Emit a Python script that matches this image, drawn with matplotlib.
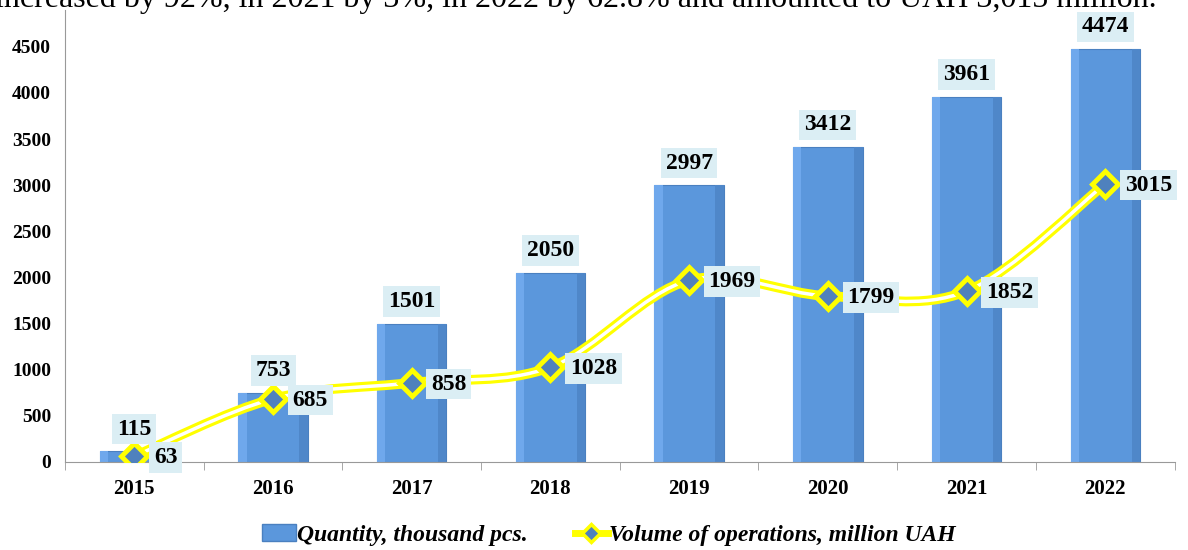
import numpy as np
import matplotlib
matplotlib.use('Agg')
import matplotlib.pyplot as plt
from matplotlib.path import Path
from matplotlib.patches import PathPatch, Patch
from matplotlib.lines import Line2D

plt.rcParams['font.family'] = ['Liberation Serif', 'DejaVu Serif']

years = ['2015', '2016', '2017', '2018', '2019', '2020', '2021', '2022']
quantity = [115, 753, 1501, 2050, 2997, 3412, 3961, 4474]
volume = [63, 685, 858, 1028, 1969, 1799, 1852, 3015]
yticks = [0, 500, 1000, 1500, 2000, 2500, 3000, 3500, 4000, 4500]
top_text = 'increased by 92%, in 2021 by 3%, in 2022 by 62.8% and amounted to UAH 3,015 million.'

fig = plt.figure(figsize=(11.88, 5.5), dpi=100)
ax = fig.add_axes([0.0547, 0.16, 0.934, 0.822])

x = np.arange(len(years))
bars = ax.bar(x, quantity, width=0.5, color='#5B97DC', edgecolor='#4A80C0',
              linewidth=0.8, zorder=2)
# simple bevel: lighter left strip, darker right strip
for b in bars:
    bx, bw, bh = b.get_x(), b.get_width(), b.get_height()
    ax.bar(bx + bw * 0.06, bh, width=bw * 0.12, color='#6FA8EC', linewidth=0, zorder=2.1)
    ax.bar(bx + bw * 0.94, bh, width=bw * 0.12, color='#4F87C9', linewidth=0, zorder=2.1)

# smooth curve through the points (Catmull-Rom as cubic bezier)
pts = np.column_stack([x, volume]).astype(float)
verts = [tuple(pts[0])]
codes = [Path.MOVETO]
for i in range(len(pts) - 1):
    p0 = pts[i - 1] if i > 0 else pts[i]
    p1, p2 = pts[i], pts[i + 1]
    p3 = pts[i + 2] if i + 2 < len(pts) else pts[i + 1]
    c1 = p1 + (p2 - p0) / 6
    c2 = p2 - (p3 - p1) / 6
    verts += [tuple(c1), tuple(c2), tuple(p2)]
    codes += [Path.CURVE4] * 3
path = Path(verts, codes)
ax.add_patch(PathPatch(path, fill=False, edgecolor='#FFFF00', lw=7, zorder=3))
ax.add_patch(PathPatch(path, fill=False, edgecolor='white', lw=2.5, zorder=3.1))
ax.plot(x, volume, linestyle='none', marker='D', markersize=13,
        markerfacecolor='#4F81BD', markeredgecolor='#FFFF00', markeredgewidth=3.5,
        zorder=4)

box = dict(boxstyle='square,pad=0.2', facecolor='#DBEEF4', edgecolor='none')
for xi, q in zip(x, quantity):
    ax.annotate(str(q), (xi, q), xytext=(0, 16), textcoords='offset points',
                ha='center', va='center', fontsize=17, fontweight='bold',
                bbox=box, zorder=5)
for xi, v in zip(x, volume):
    ax.annotate(str(v), (xi, v), xytext=(14, -1), textcoords='offset points',
                ha='left', va='center', fontsize=17, fontweight='bold',
                bbox=box, zorder=5)

ax.set_xlim(-0.5, len(years) - 0.5)
ax.set_ylim(0, 4900)
ax.set_yticks(yticks)
ax.set_yticklabels([str(t) for t in yticks], fontsize=14, fontweight='bold')
ax.set_xticks(x)
ax.set_xticklabels(years, fontsize=15, fontweight='bold')
ax.set_xticks(np.arange(len(years) + 1) - 0.5, minor=True)
ax.tick_params(axis='x', which='major', length=0, pad=12)
ax.tick_params(axis='x', which='minor', length=6, color='#999999')
ax.tick_params(axis='y', length=0, pad=10)
for s in ['top', 'right']:
    ax.spines[s].set_visible(False)
ax.spines['left'].set_color('#999999')
ax.spines['bottom'].set_color('#999999')

handles = [Patch(facecolor='#5B97DC', edgecolor='#4A80C0'),
           Line2D([], [], color='#FFFF00', lw=5, marker='D', markersize=9,
                  markerfacecolor='#4F81BD', markeredgecolor='#FFFF00',
                  markeredgewidth=2.5)]
fig.legend(handles, ['Quantity, thousand pcs.', 'Volume of operations, million UAH'],
           loc='center', bbox_to_anchor=(0.5126, 0.027), ncol=2, frameon=False,
           prop=dict(size=17, weight='bold', style='italic'),
           handlelength=1.4, handletextpad=0.05, columnspacing=2.0)

fig.text(-0.004, 1 - 7 / 550, top_text, fontsize=23, va='baseline', ha='left')

fig.savefig('out.png', dpi=100)
